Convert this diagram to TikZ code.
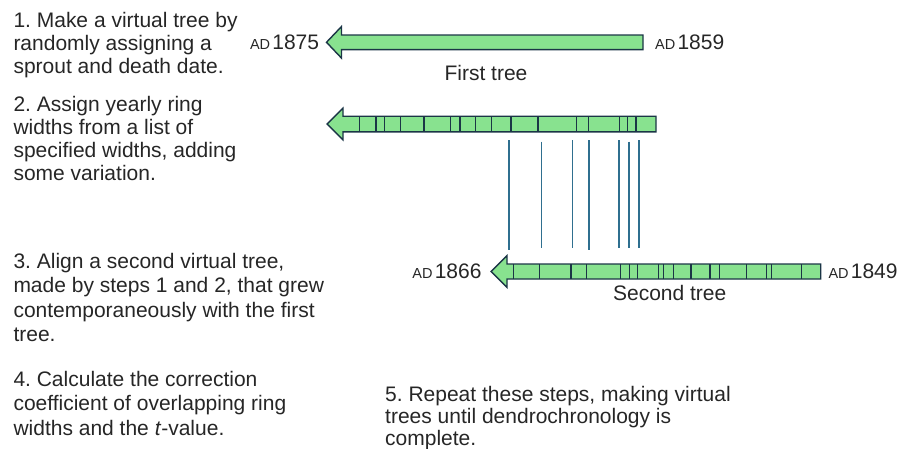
\documentclass[tikz,border=0pt]{standalone}
\usepackage{fontspec}
\setmainfont{Liberation Sans}
\frenchspacing
\definecolor{treefill}{HTML}{88E28F}
\definecolor{treeedge}{HTML}{1B3546}
\definecolor{ringline}{HTML}{2F6F8F}
\definecolor{txt}{HTML}{262626}
\newcommand\treearrow[5]{% tip, headbase, tail, cy, half shaft
  \draw[arrowbody] (#1,#4) -- (#2,#4-15.8) -- (#2,#4-#5) -- (#3,#4-#5) -- (#3,#4+#5) -- (#2,#4+#5) -- (#2,#4+15.8) -- cycle;}
\newcommand\bigtxt{\fontsize{21}{23.5}\selectfont}
\newcommand\adlabel[1]{{\fontsize{14.5}{16}\selectfont AD}\hspace{2.2pt}{\fontsize{21}{23}\selectfont #1}}
\begin{document}
\begin{tikzpicture}[x=1pt,y=-1pt,
  arrowbody/.style={fill=treefill,draw=treeedge,line width=1.4pt,line join=miter},
  ring/.style={draw=treeedge,line width=1.3pt},
  match/.style={draw=ringline,line width=1.4pt},
  steptext/.style={anchor=base west,inner sep=0pt,text=txt,font=\bigtxt},
  datelabel/.style={inner sep=0pt,text=txt},
  treename/.style={anchor=base,inner sep=0pt,text=txt,font=\bigtxt}]
\useasboundingbox (0,0) rectangle (903,448);

% step texts
\node[steptext] (s1) at (13.3,27.3) {\bigtxt\vtop{\baselineskip=23pt\hbox{1. Make a virtual tree by}\hbox{randomly assigning a}\hbox{sprout and death date.}}};
\node[steptext] (s2) at (13.3,111.2) {\bigtxt\vtop{\baselineskip=23.1pt\hbox{2. Assign yearly ring}\hbox{widths from a list of}\hbox{specified widths, adding}\hbox{some variation.}}};
\node[steptext] (s3) at (13.3,268.3) {\bigtxt\vtop{\baselineskip=24.4pt\hbox{3. Align a second virtual tree,}\hbox{made by steps 1 and 2, that grew}\hbox{contemporaneously with the first}\hbox{tree.}}};
\node[steptext] (s4) at (13.3,386.7) {\bigtxt\vtop{\baselineskip=24.2pt\hbox{4. Calculate the correction}\hbox{coefficient of overlapping ring}\hbox{widths and the \textit{t}-value.}}};
\node[steptext] (s5) at (385,401) {\bigtxt\vtop{\baselineskip=22pt\hbox{5. Repeat these steps, making virtual}\hbox{trees until dendrochronology is}\hbox{complete.}}};

% first tree
\treearrow{326.5}{341.5}{643}{42.3}{7.3}
\node[datelabel,anchor=base east] (d1875) at (319.3,49.4) {\adlabel{1875}};
\node[datelabel,anchor=base west] (d1859) at (655,49.4) {\adlabel{1859}};
\node[treename] (t1) at (486,80) {First tree};

% ring-width tree
\treearrow{327}{343}{656}{124}{7.8}
\foreach \x in {359.3,376,384.3,400.3,424,450.7,460,475.7,491.7,511,538,576.3,588.7,619.3,627.7,636}
  \draw[ring] (\x,116.2) -- (\x,131.8);

% matching lines
\foreach \x/\a/\b in {509/140/250,541.7/141.7/248.3,572.3/140/248.3,589/140/250,619/140/248.3,629/141.7/248.3,639/140/248.3}
  \draw[match] (\x,\a) -- (\x,\b);

% second tree
\treearrow{491}{507}{820.7}{271.5}{7.5}
\foreach \x in {513.3,539.3,571,586.7,620.7,629.3,637.7,658.3,663.3,673.3,691,710,719.3,746.7,766.7,771.7,801.7}
  \draw[ring] (\x,264) -- (\x,279);
\node[datelabel,anchor=base east] (d1866) at (481.7,278.8) {\adlabel{1866}};
\node[datelabel,anchor=base west] (d1849) at (828.3,278.8) {\adlabel{1849}};
\node[treename] (t2) at (669.7,300.7) {Second tree};
\end{tikzpicture}
\end{document}
